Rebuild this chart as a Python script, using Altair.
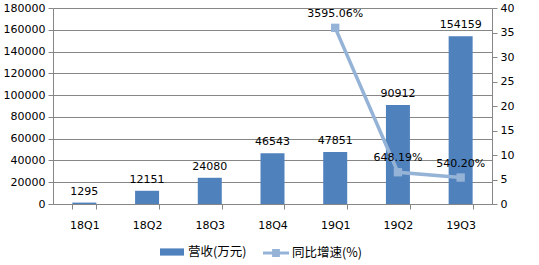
import altair as alt
import pandas as pd

quarters = ["18Q1", "18Q2", "18Q3", "18Q4", "19Q1", "19Q2", "19Q3"]
revenue = [1295, 12151, 24080, 46543, 47851, 90912, 154159]
growth_q = ["19Q1", "19Q2", "19Q3"]
growth = [35.9506, 6.4819, 5.4020]
growth_labels = ["3595.06%", "648.19%", "540.20%"]

bar_name = "营收(万元)"
line_name = "同比增速(%)"

bars_df = pd.DataFrame({"q": quarters, "rev": revenue, "s": [bar_name] * len(quarters)})
line_df = pd.DataFrame({"q": growth_q, "g": growth, "lab": growth_labels, "s": [line_name] * len(growth_q)})

FONT = "DejaVu Sans"
BAR_C = "#4F81BD"
LINE_C = "#95B3D7"
GRID_C = "#868686"

x = alt.X("q:N", sort=quarters, title=None,
          scale=alt.Scale(domain=quarters, paddingInner=0.62, paddingOuter=0.31),
          axis=alt.Axis(labelAngle=0, tickBand="extent", domainColor=GRID_C, tickColor=GRID_C,
                        tickSize=5, labelPadding=10, labelFontSize=11, labelFont=FONT,
                        labelColor="#000000"))

yl = alt.Y("rev:Q", title=None,
           scale=alt.Scale(domain=[0, 180000]),
           axis=alt.Axis(values=list(range(0, 180001, 20000)), format="d", grid=True, gridColor=GRID_C,
                         domainColor=GRID_C, tickColor=GRID_C, tickSize=5, labelFontSize=11,
                         labelFont=FONT, labelColor="#000000", labelPadding=3))

bars = alt.Chart(bars_df).mark_bar(size=24).encode(
    x=x, y=yl,
    color=alt.Color("s:N", scale=alt.Scale(domain=[bar_name], range=[BAR_C]),
                    legend=alt.Legend(title=None, orient="none", legendX=107, legendY=232,
                                      symbolType="M-1,-0.3H1V0.3H-1Z", symbolSize=576,
                                      symbolStrokeWidth=0, labelFontSize=12.5,
                                      labelFont="Noto Sans CJK SC", labelColor="#000000",
                                      labelOffset=4)),
)
bar_text = alt.Chart(bars_df).mark_text(baseline="bottom", dy=-6, fontSize=11, font=FONT,
                                         color="#000000").encode(
    x=x, y=yl, text="rev:Q")

yr = alt.Y("g:Q", title=None, scale=alt.Scale(domain=[0, 40]),
           axis=alt.Axis(orient="right", values=list(range(0, 41, 5)), grid=False,
                         domainColor=GRID_C, tickColor=GRID_C, tickSize=5, labelFontSize=11,
                         labelFont=FONT, labelColor="#000000", labelPadding=3))

line = alt.Chart(line_df).mark_line(color=LINE_C, strokeWidth=3.5).encode(x=x, y=yr)
pts = alt.Chart(line_df).mark_point(shape="square", filled=True, size=70, opacity=1).encode(
    x=x, y=yr,
    color=alt.Color("s:N", scale=alt.Scale(domain=[line_name], range=[LINE_C]),
                    legend=alt.Legend(title=None, orient="none", legendX=210, legendY=232,
                                      symbolType="M-1,-0.12H1V0.12H-1Z M-0.3,-0.3H0.3V0.3H-0.3Z",
                                      symbolSize=676, symbolStrokeWidth=0, labelFontSize=12.5,
                                      labelFont="Noto Sans CJK SC", labelColor="#000000",
                                      labelOffset=3)),
)
line_text = alt.Chart(line_df).mark_text(baseline="bottom", dy=-9, fontSize=11, font=FONT,
                                          color="#000000").encode(x=x, y=yr, text="lab:N")

left = alt.layer(bars, bar_text)
right = alt.layer(line, pts, line_text)

chart = alt.layer(left, right).resolve_scale(y="independent", color="independent").properties(
    width=439, height=196,
    autosize=alt.AutoSizeParams(type="none"),
    padding={"left": 53, "top": 8, "right": 47, "bottom": 61},
    background="white",
).configure_view(stroke=None).configure_axis(domainWidth=1, gridWidth=1)

chart.save("out.html", embed_options={"renderer": "svg", "actions": False})
